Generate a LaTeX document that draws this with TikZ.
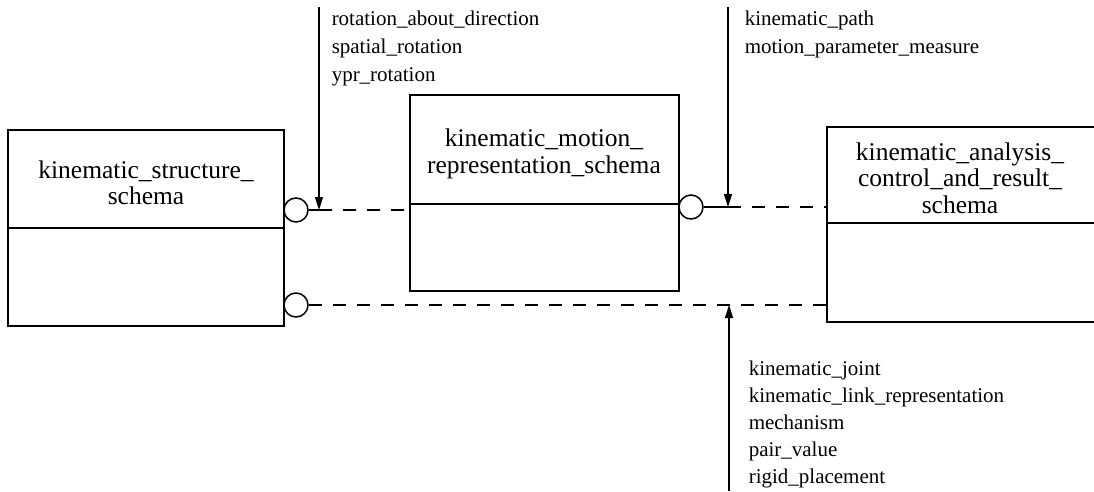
\documentclass[tikz,border=0pt]{standalone}
\usepackage{fontspec}
\setmainfont{Liberation Serif}
\usetikzlibrary{arrows.meta}
\newcommand{\lbl}{\fontsize{21}{28}\selectfont}
\newcommand{\ttl}{\fontsize{25.5}{26.5}\selectfont}

\begin{document}
\begin{tikzpicture}[x=1pt,y=-1pt,line width=1.5pt,
   lollipop/.style={draw,circle,minimum size=24pt,inner sep=0pt},
   link/.style={dash pattern=on 13pt off 11pt},
   feed/.style={-{Triangle[length=13pt,width=8pt]}},
   title/.style={align=center,font=\ttl,inner sep=0pt},
   items/.style={align=left,font=\lbl,inner sep=0pt,anchor=north west}]
   \useasboundingbox (0,0) rectangle (1094,491);
   \clip (0,0) rectangle (1094,491);
   % schema boxes
   \draw (  8,130) rectangle (284,326);
   \draw (  8,228) -- (284,228);
   \draw (410, 95) rectangle (679,291);
   \draw (410,204) -- (679,204);
   \draw (1110,127) -- (827,127) -- (827,322) -- (1110,322);
   \draw (827,223) -- (1110,223);
   \node[title] (ks) at (146,183) {kinematic\_structure\_\\schema};
   \node[title] (km) at (544,154) {kinematic\_motion\_\\representation\_schema};
   \node[title] (ka) at (960,178) {kinematic\_analysis\_\\control\_and\_result\_\\schema};
   % interfaces
   \node[lollipop] (ks1) at (296,210) {};
   \node[lollipop] (ks2) at (296,305) {};
   \node[lollipop] (km1) at (691,207) {};
   \coordinate (j1)  at (319,210);
   \coordinate (j2)  at (728,207);
   \coordinate (j3)  at (729,305);
   \coordinate (kmw) at (410,210);
   \coordinate (kaw) at (827,207);
   \coordinate (kal) at (827,305);
   \coordinate (t1)  at (319,7);
   \coordinate (t2)  at (728,7);
   \coordinate (b3)  at (729,491);
   \draw (ks1) -- (j1);
   \draw[link] (j1) -- (kmw);
   \draw (km1) -- (j2);
   \draw[link] (j2) -- (kaw);
   \draw[link] (ks2) -- (kal);
   \draw[feed] (t1) -- (j1);
   \draw[feed] (t2) -- (j2);
   \draw[feed] (b3) -- (j3);
   % referenced types
   \node[items] (r1) at (331,10) {rotation\_about\_direction\\spatial\_rotation\\ypr\_rotation};
   \node[items] (r2) at (744,10) {kinematic\_path\\motion\_parameter\_measure};
   \node[items,font=\fontsize{21}{27}\selectfont] (r3) at (748,360)
      {kinematic\_joint\\kinematic\_link\_representation\\mechanism\\pair\_value\\rigid\_placement};
\end{tikzpicture}
\end{document}
